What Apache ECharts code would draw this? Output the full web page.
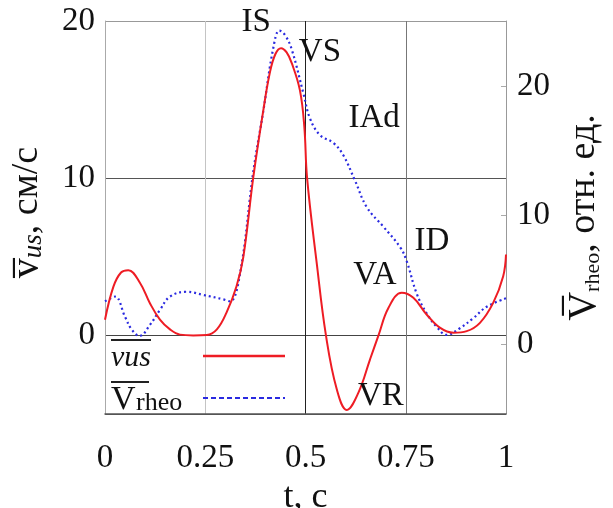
<!DOCTYPE html>
<html>
<head>
<meta charset="utf-8">
<script src="https://cdn.jsdelivr.net/npm/echarts@6/dist/echarts.min.js"></script>
<style>
html, body { margin: 0; padding: 0; background: #fff; }
#chart { width: 613px; height: 508px; }
</style>
</head>
<body>
<div id="chart"></div>
<script>
// скорость кровотока (УЗИ), см/с
const usT = [0, 0.021, 0.04, 0.058, 0.087, 0.112, 0.137, 0.162, 0.187, 0.22, 0.254, 0.279, 0.303, 0.328, 0.345,
    0.37, 0.395, 0.411, 0.425, 0.439, 0.453, 0.466, 0.486, 0.497, 0.504, 0.528, 0.551, 0.578, 0.603, 0.632,
    0.661, 0.682, 0.707, 0.74, 0.769, 0.802, 0.835, 0.869, 0.902, 0.935, 0.968, 0.993, 1.0];
const usV = [1.0, 3.1, 4.0, 4.15, 3.35, 2.05, 1.0, 0.38, 0.05, 0, 0.02, 0.38, 1.45, 3.13, 5.0,
    10.1, 14.35, 16.7, 17.9, 18.27, 18.0, 17.3, 15.6, 13.3, 10.0, 4.6, 0, -3.43, -4.74, -3.64,
    -1.52, 0, 1.76, 2.71, 2.39, 1.33, 0.49, 0.17, 0.27, 0.8, 2.07, 3.77, 5.15];

// реограмма, отн. ед.
const rheoT = [0, 0.025, 0.05, 0.067, 0.086, 0.112, 0.137, 0.162, 0.204, 0.245, 0.295, 0.312, 0.337,
    0.37, 0.395, 0.42, 0.435, 0.45, 0.466, 0.495, 0.511, 0.536, 0.569, 0.594, 0.623, 0.653, 0.694,
    0.736, 0.752, 0.777, 0.802, 0.827, 0.852, 0.885, 0.918, 0.952, 1.0];
const rheoV = [3.3, 3.67, 2.1, 1.1, 0.62, 1.47, 2.64, 3.67, 4.05, 3.8, 3.46, 3.3, 5.5,
    13.4, 18.1, 23.0, 24.3, 23.9, 22.8, 19.4, 17.5, 16.2, 15.6, 14.65, 12.7, 10.6, 9.1,
    7.5, 6.45, 3.93, 2.38, 1.34, 0.7, 1.22, 1.99, 2.89, 3.54];

// подписи характерных точек (координаты по левой оси)
const markNames = ['IS', 'VS', 'IAd', 'ID', 'VA', 'VR'];
const markT = [0.377, 0.536, 0.671, 0.815, 0.673, 0.688];
const markV = [19.9, 18.0, 13.8, 5.97, 3.8, -3.9];

const leftTicks = [0, 10, 20];
const rightTicks = [0, 10, 20];

const FONT = 'Liberation Serif';

const chart = echarts.init(document.getElementById('chart'));

const zip = (a, b) => a.map((v, i) => [v, b[i]]);

const option = {
    animation: false,
    backgroundColor: '#fff',
    grid: { left: 105, right: 107, top: 21, bottom: 94, containLabel: false, outerBoundsMode: 'none' },
    legend: {
        orient: 'vertical',
        left: 106,
        top: 334,
        align: 'right',
        itemWidth: 82,
        itemHeight: 14,
        itemGap: 8,
        itemStyle: { opacity: 0, borderWidth: 0 },
        textStyle: {
            fontFamily: FONT,
            color: '#111',
            rich: {
                bar: { width: 40, height: 2, fontSize: 2, lineHeight: 4, backgroundColor: '#222', align: 'left' },
                bar2: { width: 38, height: 2, fontSize: 2, lineHeight: 4, backgroundColor: '#222', align: 'left' },
                sp: { width: 47, fontSize: 2, lineHeight: 4 },
                sp2: { width: 49, fontSize: 2, lineHeight: 4 },
                a: { fontFamily: FONT, fontStyle: 'italic', fontSize: 30, lineHeight: 32, color: '#111', width: 87, align: 'left' },
                b: { fontFamily: FONT, fontSize: 34, lineHeight: 32, color: '#111', width: 25, align: 'left' },
                c: { fontFamily: FONT, fontSize: 26, lineHeight: 32, color: '#111', width: 62, align: 'left', verticalAlign: 'bottom' }
            }
        },
        formatter: name => name === 'vus'
            ? '{bar| }{sp| }\n{a|vus}'
            : '{bar2| }{sp2| }\n{b|V}{c|rheo}',
        data: [
            { name: 'vus', lineStyle: { width: 2.5 } },
            { name: 'Vrheo', lineStyle: { type: [5, 3], width: 2.2 } }
        ]
    },
    xAxis: {
        type: 'value',
        min: 0,
        max: 1,
        interval: 0.25,
        name: 't, c',
        nameLocation: 'middle',
        nameGap: 44,
        nameTextStyle: { fontFamily: FONT, fontSize: 36, color: '#111' },
        axisLine: { onZero: false, lineStyle: { color: '#555', width: 1.5 } },
        axisTick: { show: false },
        axisLabel: { fontFamily: FONT, fontSize: 33, color: '#111', margin: 28 },
        splitLine: {
            show: true,
            lineStyle: { color: ['#999', '#c4c4c4', '#222', '#777', '#999'] }
        }
    },
    yAxis: [
        {
            type: 'value',
            min: -5,
            max: 20,
            interval: 5,
            position: 'left',
            name: '{o|v\u0305}{s|us}{n|, см/с}',
            nameLocation: 'middle',
            nameRotate: 90,
            nameGap: 58,
            nameTextStyle: {
                padding: [0, 0, 0, 10],
                rich: {
                    o: { fontFamily: FONT, fontSize: 40, color: '#111' },
                    s: { fontFamily: FONT, fontStyle: 'italic', fontSize: 27, color: '#111', verticalAlign: 'bottom' },
                    n: { fontFamily: FONT, fontSize: 38, color: '#111' }
                }
            },
            axisLine: { show: true, lineStyle: { color: '#aaa' } },
            axisTick: { show: false },
            axisLabel: {
                fontFamily: FONT, fontSize: 33, color: '#111', margin: 10,
                formatter: v => leftTicks.includes(v) ? String(v) : ''
            },
            splitLine: {
                show: true,
                lineStyle: { color: ['#555', '#444', 'rgba(0,0,0,0)', '#555', 'rgba(0,0,0,0)', '#999'] }
            }
        },
        {
            type: 'value',
            min: -5.43,
            max: 25.04,
            position: 'right',
            name: '{o|V\u0305}{s|rheo}{n|, отн. ед.}',
            nameLocation: 'middle',
            nameRotate: 90,
            nameGap: 58,
            nameTextStyle: {
                rich: {
                    o: { fontFamily: FONT, fontSize: 40, color: '#111' },
                    s: { fontFamily: FONT, fontSize: 22, color: '#111', verticalAlign: 'bottom' },
                    n: { fontFamily: FONT, fontSize: 38, color: '#111' }
                }
            },
            axisLine: { show: true, lineStyle: { color: '#999' } },
            axisTick: { show: true, inside: true, length: 5, customValues: rightTicks, lineStyle: { color: '#aaa' } },
            axisLabel: { fontFamily: FONT, fontSize: 33, color: '#111', margin: 11, customValues: rightTicks },
            splitLine: { show: false }
        }
    ],
    series: [
        {
            name: 'vus',
            type: 'line',
            yAxisIndex: 0,
            data: zip(usT, usV),
            smooth: 0.4,
            showSymbol: false,
            symbol: 'none',
            lineStyle: { color: '#ee1c24', width: 2 },
            itemStyle: { color: '#ee1c24' },
            z: 3,
            markPoint: {
                symbol: 'circle',
                symbolSize: 0,
                label: {
                    show: true,
                    position: 'inside',
                    formatter: '{b}',
                    fontFamily: FONT,
                    fontSize: 33,
                    color: '#111'
                },
                data: markNames.map((n, i) => ({ name: n, coord: [markT[i], markV[i]] }))
            }
        },
        {
            name: 'Vrheo',
            type: 'line',
            yAxisIndex: 1,
            data: zip(rheoT, rheoV),
            smooth: 0.4,
            showSymbol: false,
            symbol: 'none',
            lineStyle: { color: '#2a2ae0', width: 2.2, type: [2, 3] },
            itemStyle: { color: '#2a2ae0' },
            z: 2
        }
    ]
};

chart.setOption(option);
</script>
</body>
</html>
